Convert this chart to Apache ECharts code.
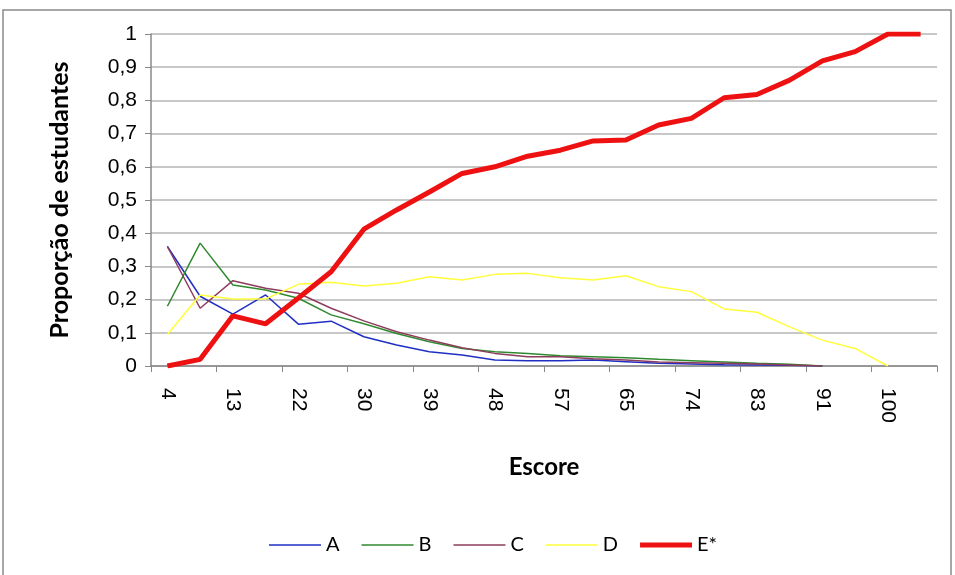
<!DOCTYPE html>
<html>
<head>
<meta charset="utf-8">
<script src="https://cdn.jsdelivr.net/npm/echarts@6/dist/echarts.min.js"></script>
<style>
html,body{margin:0;padding:0;background:#fff;}
#chart{width:955px;height:575px;}
</style>
</head>
<body>
<div id="chart"></div>
<script>
const categories = ['4','9','13','17','22','26','30','35','39','43','48','52','57','61','65','70','74','78','83','87','91','96','100','104'];
const seriesA = [0.36,0.21,0.156,0.214,0.126,0.135,0.088,0.063,0.043,0.033,0.018,0.016,0.016,0.018,0.013,0.008,0.006,0.004,0.003,0.002,0,null,null,null];
const seriesB = [0.18,0.37,0.244,0.229,0.204,0.154,0.127,0.098,0.073,0.053,0.043,0.038,0.031,0.028,0.025,0.02,0.016,0.012,0.008,0.005,0,null,null,null];
const seriesC = [0.36,0.174,0.257,0.234,0.219,0.174,0.136,0.103,0.078,0.055,0.038,0.028,0.028,0.022,0.018,0.012,0.01,0.008,0.006,0.003,0,null,null,null];
const seriesD = [0.095,0.214,0.202,0.202,0.246,0.252,0.241,0.249,0.269,0.259,0.276,0.279,0.266,0.259,0.272,0.239,0.224,0.172,0.162,0.118,0.078,0.053,0,null];
const seriesE = [0,0.02,0.151,0.127,0.205,0.284,0.412,0.47,0.524,0.58,0.6,0.632,0.65,0.678,0.681,0.726,0.746,0.808,0.818,0.861,0.919,0.947,1,1];
const seriesNames = ['A','B','C','D','E*'];
const xAxisTitle = 'Escore';
const yAxisTitle = 'Proporção de estudantes';

const chart = echarts.init(document.getElementById('chart'), null, {renderer:'canvas'});
const mk = (name, data, color, width) => ({
  name, type:'line', data, symbol:'none', showSymbol:false, connectNulls:false,
  lineStyle:{color, width}, itemStyle:{color}, animation:false
});
const thin = 'path://M0,0h52v1.6h-52z';
const thick = 'path://M0,0h52v5h-52z';
chart.setOption({
  animation:false,
  backgroundColor:'#fff',
  graphic:[{type:'rect', shape:{x:3,y:10,width:948,height:580}, style:{fill:'none',stroke:'#8a8a8a',lineWidth:1.5}, silent:true, z:-1}],
  grid:{left:151, right:18, top:34, bottom:209, containLabel:false},
  legend:{
    data:[
      {name:seriesNames[0], icon:thin},
      {name:seriesNames[1], icon:thin},
      {name:seriesNames[2], icon:thin},
      {name:seriesNames[3], icon:thin},
      {name:seriesNames[4], icon:thick}
    ],
    symbolKeepAspect:true,
    bottom:15, left:264, itemWidth:52, itemHeight:10, itemGap:22,
    textStyle:{fontFamily:'Lato, "Open Sans", sans-serif', fontSize:20, color:'#000'}
  },
  xAxis:{
    type:'category', data:categories, boundaryGap:true,
    name:xAxisTitle, nameLocation:'middle', nameGap:89,
    nameTextStyle:{fontFamily:'Lato, "Open Sans", sans-serif', fontSize:24, fontWeight:'bold', color:'#000'},
    axisLine:{lineStyle:{color:'#888', width:1.5}},
    axisTick:{show:true, length:6, lineStyle:{color:'#888'}},
    axisLabel:{interval:1, rotate:-90, margin:22, fontFamily:'"Liberation Sans", Arial, sans-serif', fontSize:21, color:'#000'},
    splitLine:{show:false}
  },
  yAxis:{
    type:'value', min:0, max:1, interval:0.1,
    name:yAxisTitle, nameLocation:'middle', nameGap:79, nameRotate:90,
    nameTextStyle:{fontFamily:'Lato, "Open Sans", sans-serif', fontSize:25, fontWeight:'bold', color:'#000'},
    axisLine:{show:true, lineStyle:{color:'#888', width:1.5}},
    axisTick:{show:true, length:6, lineStyle:{color:'#888'}},
    axisLabel:{margin:14, fontFamily:'"Liberation Sans", Arial, sans-serif', fontSize:21, color:'#000',
      formatter:v => (v===0?'0':(v===1?'1':v.toFixed(1).replace('.',',')))},
    splitLine:{show:true, lineStyle:{color:'#b4b4b4', width:1.5}}
  },
  series:[
    mk(seriesNames[0], seriesA, '#1f2fc4', 1.5),
    mk(seriesNames[1], seriesB, '#2f8a2f', 1.5),
    mk(seriesNames[2], seriesC, '#8e3c5c', 1.5),
    mk(seriesNames[3], seriesD, '#ffff3a', 1.5),
    mk(seriesNames[4], seriesE, '#ee1111', 5)
  ]
});
</script>
</body>
</html>
